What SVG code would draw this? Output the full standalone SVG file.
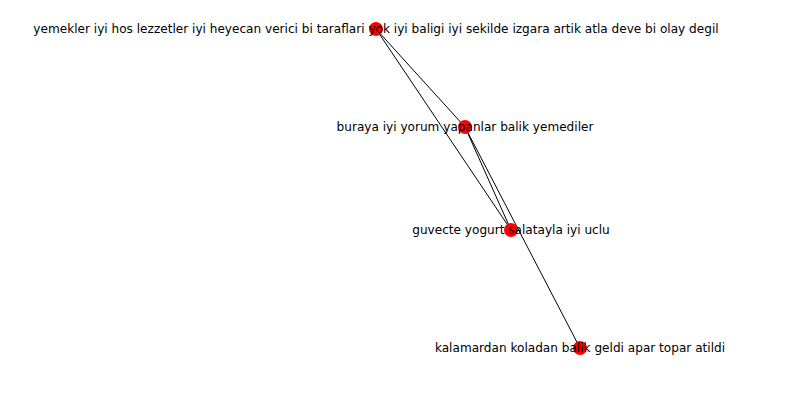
<svg xmlns="http://www.w3.org/2000/svg" width="805" height="409" viewBox="0 0 805 409">
<style>
.edge{stroke:#000;stroke-width:1;fill:none}
.node circle{fill:#ff0000}
.node text{font-family:"DejaVu Sans",sans-serif;font-size:12.1px;fill:#000;text-anchor:middle}
</style>
<rect width="805" height="409" fill="#fff"/>
<g id="edges">
<line class="edge" x1="376" y1="29" x2="465" y2="127"/>
<line class="edge" x1="376" y1="29" x2="511" y2="230"/>
<line class="edge" x1="465" y1="127" x2="511" y2="230"/>
<line class="edge" x1="465" y1="127" x2="580" y2="348"/>
</g>
<g id="n1" class="node"><circle cx="376" cy="29" r="7"/><text x="376" y="33.2">yemekler iyi hos lezzetler iyi heyecan verici bi taraflari yok iyi baligi iyi sekilde izgara artik atla deve bi olay degil</text></g>
<g id="n2" class="node"><circle cx="465" cy="127" r="7"/><text x="465" y="131.2">buraya iyi yorum yapanlar balik yemediler</text></g>
<g id="n3" class="node"><circle cx="511" cy="230" r="7"/><text x="511" y="234.2">guvecte yogurt salatayla iyi uclu</text></g>
<g id="n4" class="node"><circle cx="580" cy="348" r="7"/><text x="580" y="352.2">kalamardan koladan balik geldi apar topar atildi</text></g>
</svg>
